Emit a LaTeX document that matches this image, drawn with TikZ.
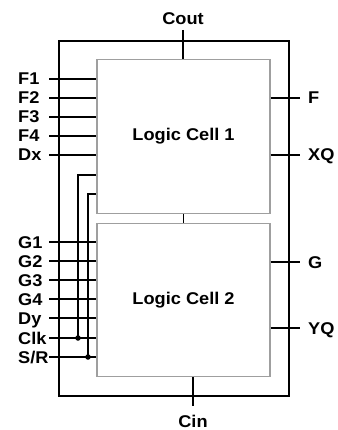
\documentclass[tikz,border=0pt]{standalone}
\usepackage{fontspec}
\setmainfont{Liberation Sans}[FakeStretch=1.07]
\usetikzlibrary{positioning}

\begin{document}
\begin{tikzpicture}[
    x=1pt, y=-1pt,
    font=\fontsize{17}{20}\selectfont\bfseries,
    cell/.style={
        rectangle,
        draw=gray!75,
        line width=1.2pt,
        minimum width=173pt,
        minimum height=153.5pt,
        align=center
    },
    frame/.style={
        rectangle,
        draw=black,
        line width=1.2pt,
        minimum width=230pt,
        minimum height=355pt
    },
    pinlabel/.style={inner sep=0pt, text height=12pt, text depth=0pt},
    wire/.style={line width=1.2pt},
    junction/.style={circle, fill=black, inner sep=0pt, minimum size=5.5pt}
]
\useasboundingbox (0,0) rectangle (337,430);

\node[frame] (outer) at (174,218.5) {};
\node[cell] (cell1) at (183.5,136.5) {Logic Cell 1};
\node[cell] (cell2) at (183.5,300) {Logic Cell 2};

% pins on the left
\coordinate (inx) at (49,0);
\foreach \name/\txt/\y in {f1/F1/79, f2/F2/98, f3/F3/117, f4/F4/136, dx/Dx/155} {
    \node[pinlabel, anchor=west] (\name) at (18,\y) {\txt};
    \draw[wire] (\name.west -| inx) -- (\name.west -| cell1.west);
}
\foreach \name/\txt/\y in {g1/G1/242, g2/G2/261, g3/G3/280, g4/G4/299, dy/Dy/318, clk/Clk/338} {
    \node[pinlabel, anchor=west] (\name) at (18,\y) {\txt};
    \draw[wire] (\name.west -| inx) -- (\name.west -| cell2.west);
}
\node[pinlabel, anchor=west] (sr) at (18,357) {S/R};
\draw[wire] (sr.west -| inx) -- (sr.west -| cell2.west);

% clock and set/reset also feed cell 1
\coordinate (clkx) at (78,0);
\coordinate (srx) at (88,0);
\coordinate (clkin) at (0,175);
\coordinate (srin) at (0,194);
\node[junction] (clkdot) at (clk.west -| clkx) {};
\node[junction] (srdot) at (sr.west -| srx) {};
\draw[wire] (clkdot.center) |- (clkin -| cell1.west);
\draw[wire] (srdot.center) |- (srin -| cell1.west);

% pins on the right
\coordinate (outx) at (300,0);
\foreach \name/\txt/\y/\c in {fo/F/98/cell1, xq/XQ/155/cell1, go/G/262/cell2, yq/YQ/328/cell2} {
    \node[pinlabel, anchor=west] (\name) at (308,\y) {\txt};
    \draw[wire] (\name.west -| \c.east) -- (\name.west -| outx);
}

% carry chain
\node[pinlabel] (cout) at (183,19) {Cout};
\coordinate (coutend) at (183,30);
\draw[wire] (coutend) -- (coutend |- cell1.north);
\draw[wire] (cell1.south) -- (cell2.north);
\coordinate (cinend) at (193,406);
\draw[wire] (cinend |- cell2.south) -- (cinend);
\node[pinlabel] (cin) at (193,421.5) {Cin};

\end{tikzpicture}
\end{document}
